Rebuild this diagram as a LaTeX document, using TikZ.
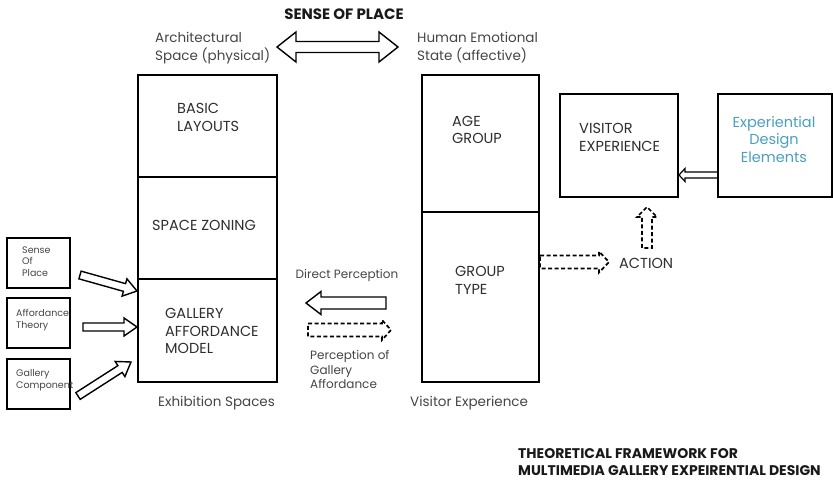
\documentclass[tikz,border=0pt]{standalone}
\usepackage{fontspec}
\setmainfont{Poppins}
\usetikzlibrary{calc}
\definecolor{tg}{HTML}{2E2E2E}
\definecolor{lg}{HTML}{454545}
\definecolor{tealc}{HTML}{4A9FBF}
\newcommand\blockarr[6][]{%
  \coordinate (bh) at ($(#3)!#6!(#2)$);
  \draw[arrline,#1] ($(#2)!#4!90:(#3)$) -- ($(bh)!#4!90:(#3)$) -- ($(bh)!#5!90:(#3)$) -- (#3)
    -- ($(bh)!#5!-90:(#3)$) -- ($(bh)!#4!-90:(#3)$) -- ($(#2)!#4!-90:(#3)$) -- cycle;}
\newcommand\dblarr[6][]{%
  \coordinate (ha) at ($(#2)!#6!(#3)$);
  \coordinate (hb) at ($(#3)!#6!(#2)$);
  \draw[arrline,#1] (#2) -- ($(ha)!#5!90:(#3)$) -- ($(ha)!#4!90:(#3)$) -- ($(hb)!#4!90:(#3)$)
    -- ($(hb)!#5!90:(#3)$) -- (#3) -- ($(hb)!#5!-90:(#3)$) -- ($(hb)!#4!-90:(#3)$)
    -- ($(ha)!#4!-90:(#3)$) -- ($(ha)!#5!-90:(#3)$) -- cycle;}
\begin{document}
\begin{tikzpicture}[x=1pt,y=-1pt,
  box/.style={draw=black, line width=1.6pt, inner sep=0pt},
  arrline/.style={draw=black, line width=1.4pt, line join=miter},
  dsh/.style={dash pattern=on 4pt off 2.5pt, line width=1.7pt},
  txt/.style={inner sep=0pt, align=left, text=tg, font=\fontsize{14.5}{17.5}\selectfont},
  small/.style={inner sep=0pt, align=left, text=lg, font=\fontsize{9.5}{11.5}\selectfont},
  lbl/.style={inner sep=0pt, align=left, text=lg, font=\fontsize{12}{14.5}\selectfont},
  big/.style={inner sep=0pt, align=left, text=lg, font=\fontsize{13.5}{18}\selectfont},
  ttl/.style={inner sep=0pt, align=left, text=black!90, font=\bfseries\fontsize{14}{17}\selectfont}]
\useasboundingbox (0,0) rectangle (833,481);
% title
\node[ttl, font=\bfseries\fontsize{15}{17}\selectfont] (sop) at (344,14) {SENSE OF PLACE};
\node[big, anchor=west] (arch) at (155,48) {Architectural\\Space (physical)};
\node[big, anchor=west] (hum) at (417,48) {Human Emotional\\State (affective)};
% left column
\node[box, minimum width=139pt, minimum height=102pt] (basic) at (207.5,126) {};
\node[box, minimum width=139pt, minimum height=102pt] (zoning) at (207.5,228) {};
\node[box, minimum width=139pt, minimum height=103pt] (gam) at (207.5,330.5) {};
\node[txt, anchor=west] (basict) at (177,117.5) {BASIC\\LAYOUTS};
\node[txt, anchor=west] (zoningt) at (152,225) {SPACE ZONING};
\node[txt, anchor=west] (gamt) at (165,331) {GALLERY\\AFFORDANCE\\MODEL};
\node[big, anchor=west] (exh) at (158,403) {Exhibition Spaces};
% right column
\node[box, minimum width=117pt, minimum height=137pt] (age) at (480.5,143.5) {};
\node[box, minimum width=117pt, minimum height=170pt] (type) at (480.5,297) {};
\node[txt, anchor=west] (aget) at (452,130) {AGE\\GROUP};
\node[txt, anchor=west] (typet) at (455,280.5) {GROUP\\TYPE};
\node[big, anchor=west] (vexp) at (410,403) {Visitor Experience};
% visitor experience & design elements
\node[box, minimum width=118pt, minimum height=103pt] (vis) at (619,145.5) {};
\node[txt, anchor=west] (vist) at (579,137.5) {VISITOR\\EXPERIENCE};
\node[box, minimum width=114pt, minimum height=103pt] (ede) at (775,145.5) {};
\node[txt, align=center, text=tealc] (edet) at (774,139.5) {Experiential\\Design\\Elements};
\node[txt, anchor=west] (action) at (619,263) {ACTION};
% small boxes
\node[box, minimum width=63pt, minimum height=50pt] (s1) at (38.5,263) {};
\node[box, minimum width=63pt, minimum height=50pt] (s2) at (38.5,323) {};
\node[box, minimum width=63pt, minimum height=50pt] (s3) at (38.5,384) {};
\node[small, anchor=west] (s1t) at (22,261.5) {Sense\\Of\\Place};
\node[small, anchor=west] (s2t) at (16,320) {Affordance\\Theory};
\node[small, anchor=west] (s3t) at (16,380) {Gallery\\Component};
% perception labels
\node[lbl] (dp) at (347,275) {Direct Perception};
\node[lbl, anchor=west] (pga) at (310,369.5) {Perception of\\Gallery\\Affordance};
\node[ttl, anchor=west] (frame) at (518,462.5) {THEORETICAL FRAMEWORK FOR\\MULTIMEDIA GALLERY EXPEIRENTIAL DESIGN};
% arrow end points
\coordinate (a1) at (80,275);  \coordinate (b1) at (137,291);
\coordinate (a2) at (83,327);  \coordinate (b2) at (137,327);
\coordinate (a3) at (78,396);  \coordinate (b3) at (131,362);
\coordinate (da) at (277,47);  \coordinate (db) at (398,47);
\coordinate (pa) at (386,303); \coordinate (pb) at (306,303);
\coordinate (qa) at (308,330); \coordinate (qb) at (391,330);
\coordinate (ra) at (540,262); \coordinate (rb) at (609,262);
\coordinate (ua) at (647,248); \coordinate (ub) at (647,207);
\coordinate (ea) at (718,175); \coordinate (eb) at (679,175);
\blockarr{a1}{b1}{4pt}{9pt}{13pt}
\blockarr{a2}{b2}{4pt}{9pt}{13pt}
\blockarr{a3}{b3}{4pt}{9pt}{13pt}
\dblarr{da}{db}{5.5pt}{15pt}{19pt}
\blockarr{pa}{pb}{6pt}{11.5pt}{15pt}
\blockarr[dsh]{qa}{qb}{6.5pt}{10pt}{9pt}
\blockarr[dsh]{ra}{rb}{6.5pt}{10.5pt}{10pt}
\blockarr[dsh]{ua}{ub}{5pt}{10pt}{10pt}
\blockarr[line width=1.2pt]{ea}{eb}{3pt}{6.5pt}{6pt}
\end{tikzpicture}
\end{document}
